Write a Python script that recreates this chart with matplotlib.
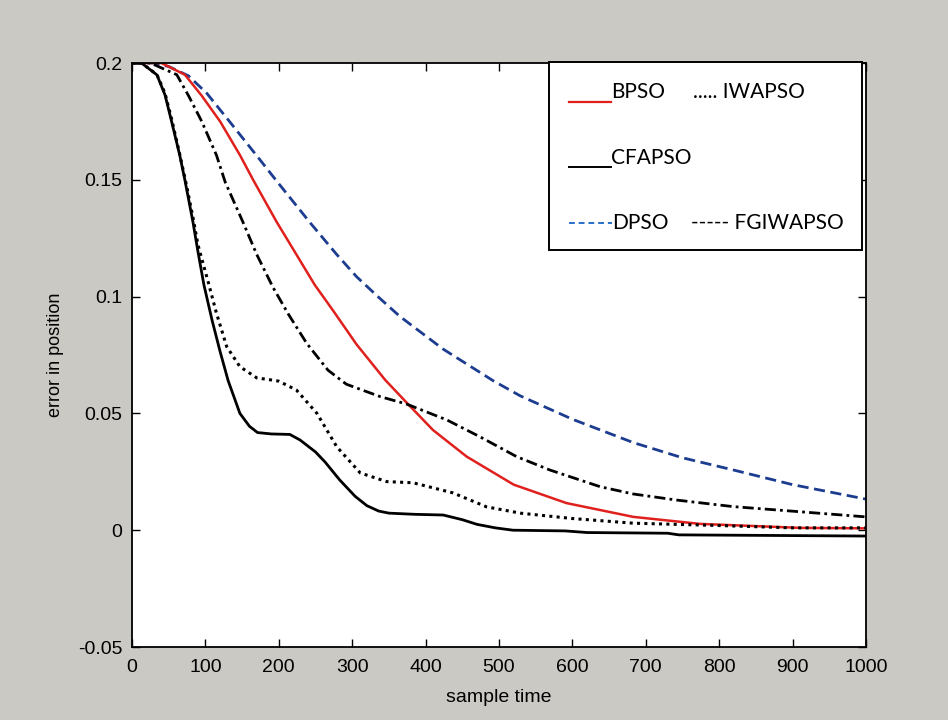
import numpy as np
import matplotlib.pyplot as plt
from matplotlib.lines import Line2D

# values
x_cfa = [0, 13, 34, 45, 54, 65, 72, 83, 90, 98, 109, 120, 131, 147, 160, 171, 190, 215, 229, 250,
         263, 283, 304, 320, 336, 350, 385, 424, 450, 470, 495, 519, 590, 620, 730, 745, 1000]
y_cfa = [0.2, 0.2, 0.1949, 0.1863, 0.1749, 0.1606, 0.15, 0.132, 0.119, 0.105, 0.09, 0.0765,
         0.064, 0.05, 0.0445, 0.0418, 0.0412, 0.041, 0.0386, 0.0335, 0.0292, 0.0215, 0.0145, 0.0105,
         0.0082, 0.0073, 0.0068, 0.0065, 0.0045, 0.0025, 0.001, 0.0, -0.0003, -0.001, -0.0013,
         -0.002, -0.0025]

x_iwa = [0, 13, 34, 45, 54, 65, 74, 83, 90, 104, 115, 129, 147, 170, 190, 200, 224, 252, 279, 311,
         347, 383, 437, 483, 529, 600, 683, 800, 900, 1000]
y_iwa = [0.2, 0.2, 0.195, 0.187, 0.176, 0.161, 0.148, 0.134, 0.122, 0.106, 0.093, 0.0786, 0.07,
         0.0652, 0.0643, 0.0638, 0.06, 0.05, 0.0357, 0.0245, 0.0208, 0.0203, 0.016, 0.01, 0.0073,
         0.005, 0.003, 0.002, 0.001, 0.001]

x_fgi = [0, 25, 61, 77, 95, 115, 127, 151, 170, 192, 213, 238, 267, 292, 338, 374, 429, 474, 524,
         569, 638, 683, 742, 819, 910, 1000]
y_fgi = [0.2, 0.2, 0.195, 0.186, 0.175, 0.1606, 0.149, 0.132, 0.118, 0.104, 0.0925, 0.08, 0.0685,
         0.0625, 0.0572, 0.054, 0.0472, 0.04, 0.0315, 0.0258, 0.0186, 0.0155, 0.0129, 0.0101,
         0.0079, 0.0057]

x_bpso = [0, 40, 72, 95, 120, 147, 165, 197, 224, 249, 274, 306, 345, 376, 410, 456, 520, 592, 683,
          774, 910, 1000]
y_bpso = [0.2, 0.2, 0.195, 0.186, 0.175, 0.1606, 0.15, 0.132, 0.118, 0.105, 0.094, 0.0795, 0.0643,
          0.054, 0.0429, 0.0315, 0.0195, 0.0116, 0.0057, 0.0027, 0.001, 0.0008]

x_dpso = [0, 30, 50, 77, 102, 134, 172, 197, 243, 279, 306, 335, 365, 424, 492, 529, 600, 683, 750,
          819, 900, 1000]
y_dpso = [0.2, 0.2, 0.1985, 0.1945, 0.187, 0.1745, 0.1595, 0.1495, 0.1315, 0.118, 0.1085, 0.1,
          0.0915, 0.0775, 0.064, 0.0575, 0.0475, 0.0375, 0.031, 0.0258, 0.0195, 0.0133]

yticks = [-0.05, 0, 0.05, 0.1, 0.15, 0.2]
ytick_labels = ['-0.05', '0', '0.05', '0.1', '0.15', '0.2']
xticks = list(range(0, 1001, 100))

W, H = 948, 720
fig = plt.figure(figsize=(W/100, H/100), dpi=100)
fig.patch.set_facecolor('#cbc9c4')
ax = fig.add_axes([132/W, 1-647/H, (866-132)/W, (647-63)/H])
ax.set_facecolor('white')

ax.plot(x_dpso, y_dpso, color='#1c3c90', ls=(0, (4, 2)), lw=2.0)
ax.plot(x_bpso, y_bpso, color='#e0201c', lw=1.8)
ax.plot(x_fgi, y_fgi, color='black', ls=(0, (4, 1.5, 1, 1.5)), lw=2.0)
ax.plot(x_iwa, y_iwa, color='black', ls=(0, (1, 1.4)), lw=2.2)
ax.plot(x_cfa, y_cfa, color='black', lw=2.0)

ax.set_xlim(0, 1000)
ax.set_ylim(-0.05, 0.2)
ax.set_xticks(xticks)
ax.set_xticklabels([str(v) for v in xticks])
ax.set_yticks(yticks)
ax.set_yticklabels(ytick_labels)
ax.tick_params(direction='in', length=6, width=1, top=True, right=True, labelsize=14)
ax.tick_params(axis='x', pad=9)
ax.tick_params(axis='y', pad=7)
for lab in ax.get_xticklabels() + ax.get_yticklabels():
    lab.set_family('Liberation Sans')
for s in ax.spines.values():
    s.set_linewidth(1.3)

ax.set_xlabel('sample time', fontsize=14, family='Liberation Sans', labelpad=9)
ax.set_ylabel('error in position', fontsize=13, family='Liberation Sans', labelpad=10)

# hand-made legend box (text + short line samples, as in the original)
def fx(px):
    return px / W

def fy(py):
    return 1 - py / H

fig.patches.append(plt.Rectangle((fx(549), fy(250)), fx(862) - fx(549), fy(62) - fy(250),
                                 transform=fig.transFigure, facecolor='white',
                                 edgecolor='black', lw=1.4, zorder=5))
lf = dict(family='Lato', fontsize=15, zorder=6, va='baseline')
fig.lines.append(Line2D([fx(569), fx(611)], [fy(102), fy(102)], color='#e0201c', lw=1.6,
                        transform=fig.transFigure, zorder=6))
fig.text(fx(611), fy(98), 'BPSO', **lf)
fig.text(fx(693), fy(98), '..... IWAPSO', **lf)
fig.lines.append(Line2D([fx(569), fx(611)], [fy(167), fy(167)], color='black', lw=1.4,
                        transform=fig.transFigure, zorder=6))
fig.text(fx(611), fy(164), 'CFAPSO', **lf)
fig.lines.append(Line2D([fx(569), fx(612)], [fy(223), fy(223)], color='#2a6fc9', lw=1.4,
                        ls=(0, (3, 2)), transform=fig.transFigure, zorder=6))
fig.text(fx(612), fy(229), 'DPSO', **lf)
fig.text(fx(691), fy(229), '----- FGIWAPSO', **lf)

plt.savefig('out.png', dpi=100, facecolor=fig.get_facecolor())
